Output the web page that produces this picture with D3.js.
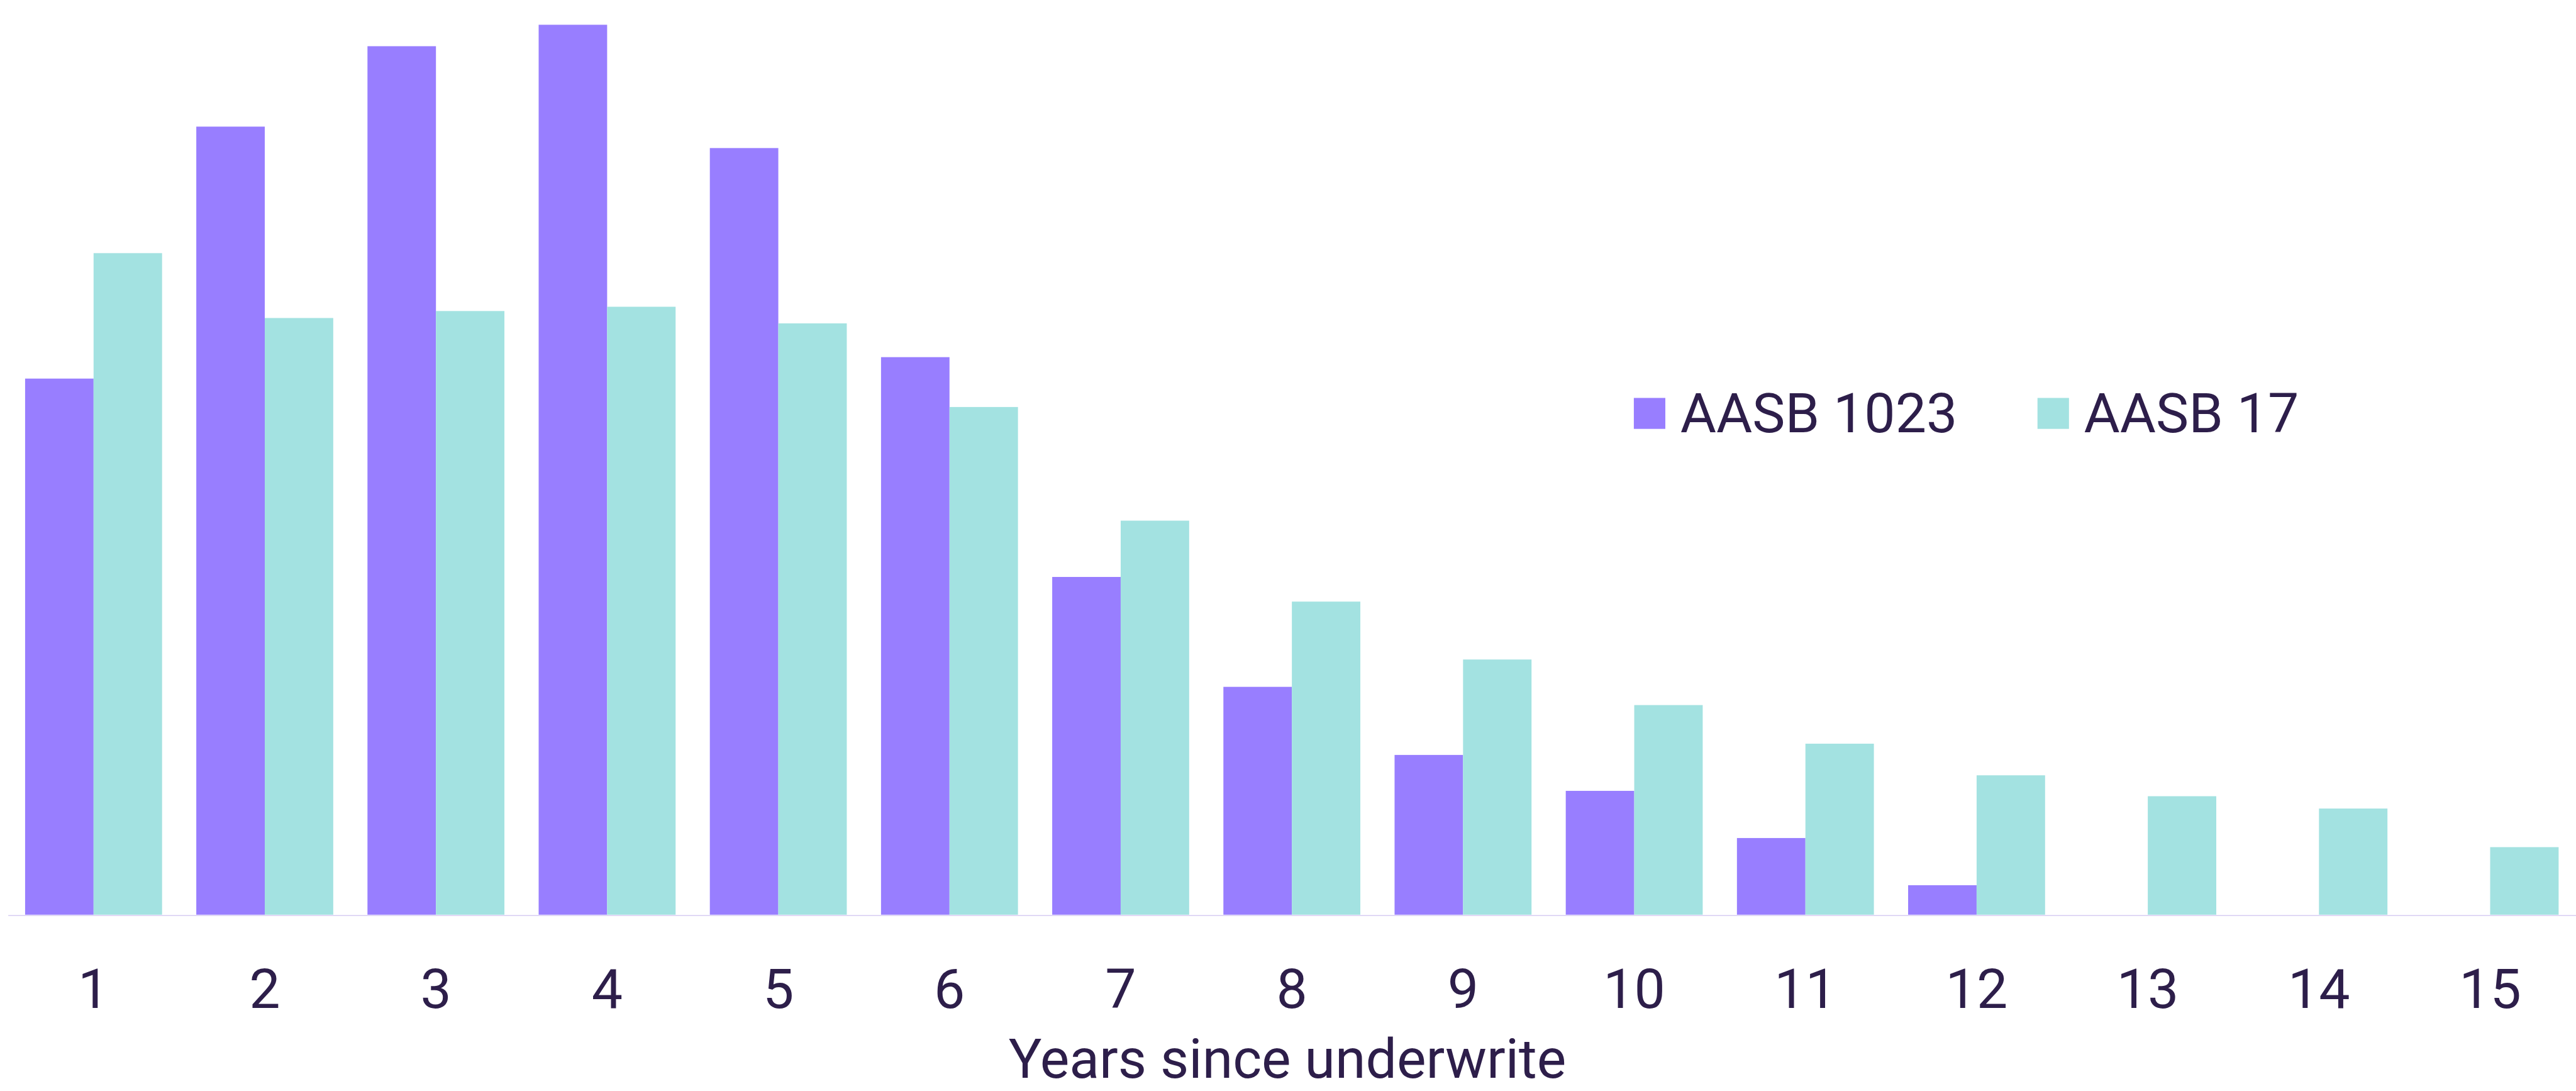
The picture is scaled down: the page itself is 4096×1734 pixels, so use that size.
<!DOCTYPE html>
<html>
<head>
  <meta charset="UTF-8">
  <title>Years since underwrite</title>
  <script src="https://d3js.org/d3.v7.min.js"></script>
  <style>
    html, body { margin:0; padding:0; background:#fff; overflow:hidden; }
    text { font-family: Roboto, "Open Sans", sans-serif; fill:#2d1e4a; }
  </style>
</head>
<body>
<div id="chart"></div>
<script>
// data (share of payments in %, each series sums to ~100)
const years = ['1','2','3','4','5','6','7','8','9','10','11','12','13','14','15'];
const aasb1023 = [10.0, 14.7, 16.2, 16.6, 14.3, 10.4, 6.3, 4.25, 2.98, 2.31, 1.43, 0.55, 0, 0, 0];
const aasb17 = [12.34, 11.13, 11.26, 11.34, 11.03, 9.47, 7.35, 5.84, 4.76, 3.91, 3.19, 2.60, 2.21, 1.98, 1.26];
const seriesNames = ['AASB 1023', 'AASB 17'];
const seriesColors = ['#987eff', '#a3e2e1'];
const xTitle = 'Years since underwrite';

// everything laid out in the reference's 4662x1974 space, scaled down by the viewBox
const W = 4662, H = 1974;
const baseY = 1655;

const svg = d3.select('#chart').append('svg')
  .attr('width', 4096)
  .attr('height', 1734)
  .attr('viewBox', `0 0 ${W} ${H}`);

const rows = years.map((y,i) => ({year:y, values:[aasb1023[i], aasb17[i]]}));

const x0 = d3.scaleBand().domain(years).range([14, W]).paddingInner(0.2).paddingOuter(0.1);
const x1 = d3.scaleBand().domain([0,1]).range([0, x0.bandwidth()]);
const y = d3.scaleLinear().domain([0, 17]).range([baseY, baseY - 17*97]);

// x axis
const xAxis = d3.axisBottom(x0).tickSize(0).tickSizeOuter(0);
const gx = svg.append('g').attr('transform', `translate(0,${baseY+1})`).call(xAxis);
gx.select('.domain').attr('stroke', '#ddd4f4').attr('stroke-width', 2);
gx.selectAll('.tick text')
  .attr('y', 168)
  .attr('dy', 0)
  .attr('font-size', 100)
  .attr('font-family', null)
  .attr('fill', '#2d1e4a');

// bars
const groups = svg.append('g').selectAll('g')
  .data(rows)
  .enter().append('g')
  .attr('transform', d => `translate(${x0(d.year)},0)`);

groups.selectAll('rect')
  .data(d => d.values.map((v,i) => ({i, v})))
  .enter().append('rect')
  .attr('x', d => x1(d.i))
  .attr('width', x1.bandwidth())
  .attr('y', d => y(d.v))
  .attr('height', d => y(0) - y(d.v))
  .attr('fill', d => seriesColors[d.i]);

// axis title
svg.append('text')
  .attr('x', (14 + W)/2 - 8)
  .attr('y', 1950)
  .attr('text-anchor', 'middle')
  .attr('font-size', 100)
  .text(xTitle);

// legend
const legend = svg.append('g').attr('transform', 'translate(2957,720)');
let lx = 0;
seriesNames.forEach((name, i) => {
  const item = legend.append('g').attr('transform', `translate(${lx},0)`);
  item.append('rect').attr('width', 57).attr('height', 56).attr('fill', seriesColors[i]);
  const t = item.append('text')
    .attr('x', 84)
    .attr('y', 62)
    .attr('font-size', 100)
    .text(name);
  lx += 84 + t.node().getComputedTextLength() + 145;
});
</script>
</body>
</html>
